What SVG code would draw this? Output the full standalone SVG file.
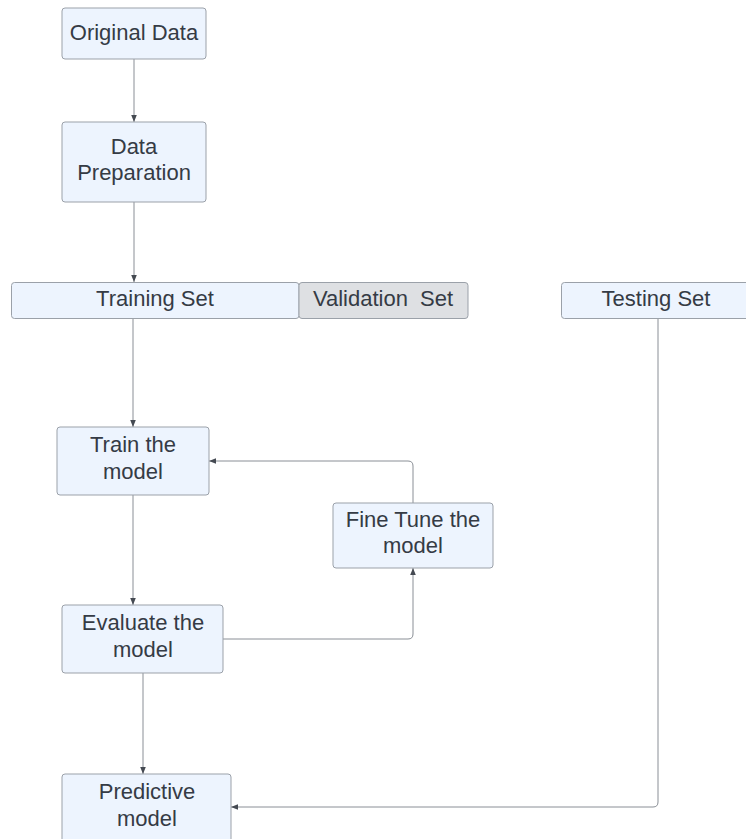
<svg xmlns="http://www.w3.org/2000/svg" width="746" height="839" viewBox="0 0 746 839">
<defs>
<style>
.box{fill:#edf4fe;stroke:#9ba1a9;stroke-width:1}
.gray{fill:#dee0e3;stroke:#9ba1a9;stroke-width:1}
text{font-family:"Liberation Sans",Arial,sans-serif;font-size:22px;fill:#353b45;text-anchor:middle}
.conn{fill:none;stroke:#8a8f96;stroke-width:1}
</style>
<marker id="ah" viewBox="0 0 10 10" refX="10" refY="5" markerWidth="7" markerHeight="7" markerUnits="userSpaceOnUse" orient="auto">
<path d="M0,1 L10,5 L0,9 z" fill="#454a52"/>
</marker>
</defs>
<rect width="746" height="839" fill="#ffffff"/>
<g id="connectors">
<path class="conn" d="M134,59 V122" marker-end="url(#ah)"/>
<path class="conn" d="M134,202 V282" marker-end="url(#ah)"/>
<path class="conn" d="M133,318 V427" marker-end="url(#ah)"/>
<path class="conn" d="M133,495 V605" marker-end="url(#ah)"/>
<path class="conn" d="M223,639 H408 Q413,639 413,634 V568" marker-end="url(#ah)"/>
<path class="conn" d="M413,503 V466 Q413,461 408,461 H209" marker-end="url(#ah)"/>
<path class="conn" d="M143,673 V774" marker-end="url(#ah)"/>
<path class="conn" d="M658,318 V802 Q658,807 653,807 H231" marker-end="url(#ah)"/>
</g>
<g id="original-data">
<rect class="box" x="62" y="8" width="144" height="51" rx="3"/>
<text x="134" y="40">Original Data</text>
</g>
<g id="data-preparation">
<rect class="box" x="62" y="122" width="144" height="80" rx="3"/>
<text x="134" y="154">Data</text>
<text x="134" y="180">Preparation</text>
</g>
<g id="training-set">
<rect class="box" x="11.5" y="282.5" width="287.5" height="36" rx="3"/>
<text x="155" y="306">Training Set</text>
</g>
<g id="validation-set">
<rect class="gray" x="299" y="282.5" width="169" height="36" rx="3"/>
<text x="383" y="306" xml:space="preserve">Validation  Set</text>
</g>
<g id="testing-set">
<rect class="box" x="561.5" y="282.5" width="190" height="36" rx="3"/>
<text x="656" y="306">Testing Set</text>
</g>
<g id="train-model">
<rect class="box" x="57" y="427" width="152" height="68" rx="3"/>
<text x="133" y="452">Train the</text>
<text x="133" y="479">model</text>
</g>
<g id="fine-tune">
<rect class="box" x="333" y="503" width="160" height="65" rx="3"/>
<text x="413" y="527">Fine Tune the</text>
<text x="413" y="553">model</text>
</g>
<g id="evaluate-model">
<rect class="box" x="62" y="605" width="161" height="68" rx="3"/>
<text x="143" y="630">Evaluate the</text>
<text x="143" y="657">model</text>
</g>
<g id="predictive-model">
<rect class="box" x="62" y="774" width="169" height="80" rx="3"/>
<text x="147" y="799">Predictive</text>
<text x="147" y="826">model</text>
</g>
</svg>
